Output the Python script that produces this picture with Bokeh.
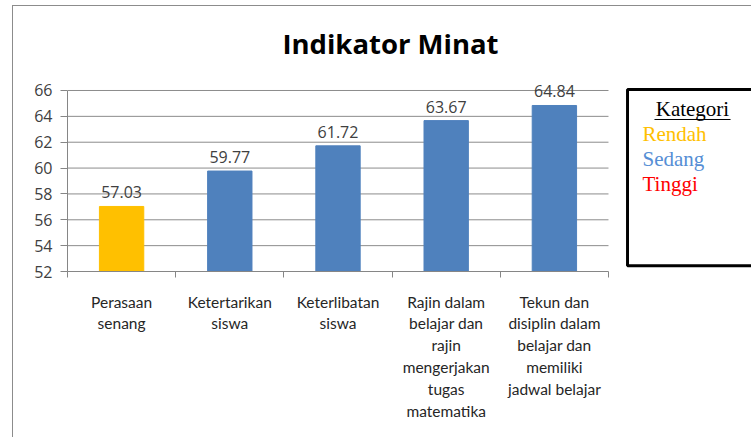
from bokeh.plotting import figure
from bokeh.models import FixedTicker, Label, ColumnDataSource, Range1d
from bokeh.embed import file_html
from bokeh.resources import INLINE
from bokeh.core.properties import value

categories = ["Perasaan\nsenang", "Ketertarikan\nsiswa", "Keterlibatan\nsiswa",
              "Rajin dalam\nbelajar dan\nrajin\nmengerjakan\ntugas\nmatematika",
              "Tekun dan\ndisiplin dalam\nbelajar dan\nmemiliki\njadwal belajar"]
values = [57.03, 59.77, 61.72, 63.67, 64.84]
bar_colors = ["#FFC000", "#4F81BD", "#4F81BD", "#4F81BD", "#4F81BD"]
y_ticks = [52, 54, 56, 58, 60, 62, 64, 66]
legend_items = ["Rendah", "Sedang", "Tinggi"]
legend_colors = ["#FFC000", "#558ED5", "#FF0000"]

xs = [i + 0.5 for i in range(len(values))]
src = ColumnDataSource(dict(x=xs, top=values, color=bar_colors,
                            label=["%.2f" % v for v in values]))

p = figure(width=739, height=432, output_backend="svg", toolbar_location=None,
           x_range=Range1d(0, 6.331), y_range=Range1d(52, 72.497),
           min_border_left=54, min_border_right=0, min_border_top=0, min_border_bottom=167)
p.styles = {"border-left": "1px solid #8c8c8c", "border-top": "1px solid #8c8c8c",
            "margin-left": "12px", "margin-top": "5px"}
p.outline_line_color = None
p.background_fill_color = "white"

# gridlines (limited to the category area)
grid_y = [t for t in y_ticks if t != y_ticks[0]]
p.segment(x0=[0] * len(grid_y), x1=[5] * len(grid_y), y0=grid_y, y1=grid_y,
          line_color="#8c8c8c", line_width=1)

p.vbar(x="x", top="top", bottom=52, width=0.41, color="color", source=src)
p.text(x="x", y="top", text="label", source=src, text_align="center", text_baseline="bottom",
       y_offset=-8, text_font=value("Open Sans"), text_font_size="16px", text_color="#404040")

# axes
p.yaxis.ticker = FixedTicker(ticks=y_ticks, minor_ticks=[])
p.yaxis.bounds = (52, 66)
p.yaxis.axis_line_color = "#868686"
p.yaxis.major_tick_line_color = "#868686"
p.yaxis.major_tick_in = 0
p.yaxis.major_tick_out = 7
p.yaxis.major_label_text_font = "Open Sans"
p.yaxis.major_label_text_font_size = "16px"
p.yaxis.major_label_text_color = "#404040"
p.yaxis.major_label_standoff = 8

p.xaxis.ticker = FixedTicker(ticks=xs, minor_ticks=[0, 1, 2, 3, 4, 5])
p.xaxis.bounds = (0, 5)
p.xaxis.major_label_overrides = {x: c for x, c in zip(xs, categories)}
p.xaxis.axis_line_color = "#868686"
p.xaxis.major_tick_line_color = None
p.xaxis.minor_tick_line_color = "#868686"
p.xaxis.minor_tick_in = 0
p.xaxis.minor_tick_out = 6
p.xaxis.major_label_standoff = 15
p.xaxis.major_label_text_font = "Lato"
p.xaxis.major_label_text_font_size = "15.5px"
p.xaxis.major_label_text_color = "#262626"
p.xaxis.major_label_text_line_height = 1.22

p.xgrid.grid_line_color = None
p.ygrid.grid_line_color = None

# title
p.add_layout(Label(x=2.985, y=69.635, text="Indikator Minat", text_align="center",
                   text_baseline="middle", text_font="Open Sans", text_font_style="bold",
                   text_font_size="27.5px", text_color="#000000"))

# legend box
p.quad(left=[5.176], right=[6.6], top=[66.077], bottom=[52.45],
       fill_color="white", line_color="black", line_width=3)
p.segment(x0=[5.425], x1=[6.128], y0=[63.757], y1=[63.757], line_color="black", line_width=1)
p.add_layout(Label(x=5.776, y=64.6, text="Kategori", text_align="center", text_baseline="middle",
                   text_font="Liberation Serif", text_font_size="21px", text_color="#000000"))
for i, (t, c) in enumerate(zip(legend_items, legend_colors)):
    p.add_layout(Label(x=5.314, y=62.65 - i * 1.934, text=t, text_align="left", text_baseline="middle",
                       text_font="Liberation Serif", text_font_size="21px", text_color=c))

open("out.html", "w").write(file_html(p, INLINE))
